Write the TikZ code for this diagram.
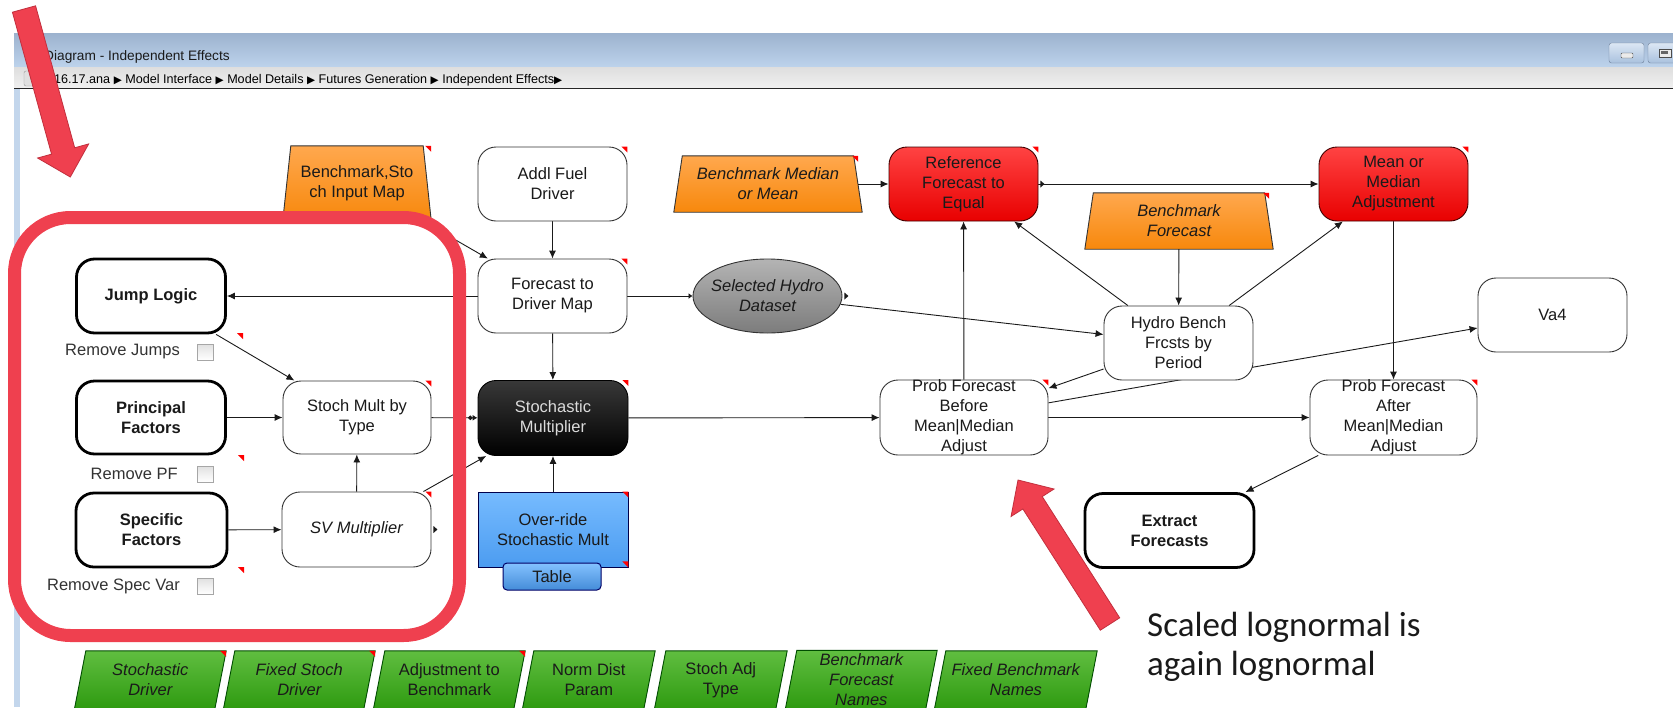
\documentclass[tikz,border=0pt]{standalone}
\usepackage{fontspec}
\setmainfont{Liberation Sans}
\newfontfamily\notefont{Carlito}
\newfontfamily\glyphfont{DejaVu Sans}
\usetikzlibrary{arrows.meta,calc,shapes.geometric}

\definecolor{titletop}{HTML}{9CB2CE}
\definecolor{titlebot}{HTML}{BDD3EC}
\definecolor{crumbtop}{HTML}{DEDEDE}
\definecolor{crumbbot}{HTML}{F0F0F0}
\definecolor{framestrip}{HTML}{C3D6EC}
\definecolor{wirecol}{HTML}{1A1A1A}
\definecolor{edgegray}{HTML}{333333}
\definecolor{inktext}{HTML}{1A1A1A}
\definecolor{markred}{HTML}{FF0000}
\definecolor{orangetop}{HTML}{FFA84E}
\definecolor{orangebot}{HTML}{F7880C}
\definecolor{redtop}{HTML}{FF4343}
\definecolor{redbot}{HTML}{E80000}
\definecolor{greentop}{HTML}{60BE40}
\definecolor{greenbot}{HTML}{2E9A10}
\definecolor{bluetop}{HTML}{76BBFF}
\definecolor{bluebot}{HTML}{4C9CF0}
\definecolor{greytop}{HTML}{B4B4B4}
\definecolor{greybot}{HTML}{7C7C7C}
\definecolor{callout}{HTML}{EF404F}
\definecolor{calloutedge}{HTML}{C22F3D}
\definecolor{btntop}{HTML}{DCE7F4}
\definecolor{btnbot}{HTML}{A9C1DE}
\definecolor{btnedge}{HTML}{6F819B}

\pgfdeclarelayer{back}
\pgfdeclarelayer{wires}
\pgfsetlayers{back,wires,main}

\newcommand\diagfont{\fontsize{16.5}{20}\selectfont}
\newcommand\crumbsep{{\glyphfont\fontsize{10.5}{12}\selectfont ▶}}
% small red flag in the corner of a node
\newcommand\cornermark[1]{\fill[markred] (#1) -- ++(-6,0) -- ++(6,6) -- cycle;}
% tiny output triangle on the right side of a node
\newcommand\outmark[1]{\fill[wirecol] (#1) ++(2,-3.5) -- ++(4,3.5) -- ++(-4,3.5) -- cycle;}
% orange trapezoid behind a text node
\newcommand\trapshape[2]{\path[trapfill] ([xshift=#2]#1.north west) -- ([xshift=-#2]#1.north east) -- (#1.south east) -- (#1.south west) -- cycle;}
% green slanted box behind a text node
\newcommand\slantshape[1]{\path[slantfill] ([xshift=5.7pt]#1.north west) -- ([xshift=5.7pt]#1.north east) -- ([xshift=-5.7pt]#1.south east) -- ([xshift=-5.7pt]#1.south west) -- cycle;}

\begin{document}
\begin{tikzpicture}[x=1pt,y=-1pt,
  every node/.style={inner sep=0pt, text=inktext},
  plain/.style={rectangle, rounded corners=18pt, draw=edgegray, line width=0.9pt, fill=white,
    minimum width=149pt, minimum height=74pt, align=center, font=\diagfont},
  heavy/.style={plain, draw=black, line width=2.8pt, font=\diagfont\bfseries},
  hot/.style={plain, top color=redtop, bottom color=redbot, draw=black!75!red},
  wire/.style={draw=wirecol, line width=0.9pt, -{Latex[length=8pt,width=7pt]}},
  trapbox/.style={rectangle, align=center, font=\diagfont},
  trapfill/.style={top color=orangetop, bottom color=orangebot, draw=edgegray, line width=0.9pt},
  slantbox/.style={rectangle, minimum height=58pt, align=center, font=\diagfont},
  slantfill/.style={top color=greentop, bottom color=greenbot, draw=black!70!green, line width=0.9pt},
  boxlabel/.style={anchor=east, font=\diagfont, text=black!80},
  checkbox/.style={rectangle, minimum width=16pt, minimum height=16pt, draw=black!35, line width=0.9pt,
    top color=black!12, bottom color=white},
  arrowshape/.style={fill=callout, draw=calloutedge, line width=0.8pt},
]
\useasboundingbox (0,0) rectangle (1673,707);

% ---- window frame ----
\begin{pgfonlayer}{back}
  \fill[white] (0,0) rectangle (1673,707);
  \shade[top color=titletop, bottom color=titlebot] (14,33) rectangle (1673,67);
  \shade[top color=crumbtop, bottom color=crumbbot] (14,67) rectangle (1673,88);
  \draw[line width=1.6pt, black!85] (14,88.6) -- (1673,88.6);
  \fill[framestrip] (14,89.4) rectangle (20,707);
  \draw[rounded corners=2pt, fill=black!12, draw=black!40] (24,71) rectangle (42,86);
  \shadedraw[rounded corners=2.5pt, top color=btntop, bottom color=btnbot, draw=btnedge] (1609,43) rectangle (1644,63);
  \draw[rounded corners=1pt, fill=black!8, draw=black!70] (1621,53) rectangle (1633,58);
  \shadedraw[rounded corners=2.5pt, top color=btntop, bottom color=btnbot, draw=btnedge] (1648,43) rectangle (1692,63);
  \draw[fill=black!8, draw=black!70] (1659,49) rectangle (1671,57);
  \fill[black!60] (1661,51) rectangle (1668,53.5);
\end{pgfonlayer}
\node[anchor=base west, font=\fontsize{13.7}{16}\selectfont] (wintitle) at (44,60) {Diagram - Independent Effects};
\node[anchor=base west, font=\fontsize{12.6}{14}\selectfont, text=black] (crumbs) at (54,83)
  {16.17.ana \crumbsep{} Model Interface \crumbsep{} Model Details \crumbsep{} Futures Generation \crumbsep{} Independent Effects\crumbsep};

% ---- left group ----
\node[heavy] (jl) at (151,296) {Jump Logic};
\node[heavy, minimum height=73pt] (pf) at (151,417.5) {Principal\\Factors};
\node[heavy, minimum width=151pt] (sf) at (151.5,530) {Specific\\Factors};
\node[boxlabel] (lj) at (180,352) {Remove Jumps};
\node[checkbox] (cbj) at (205,352) {};
\node[boxlabel] (lp) at (178,474) {Remove PF};
\node[checkbox] (cbp) at (205,474) {};
\node[boxlabel] (ls) at (180,586) {Remove Spec Var};
\node[checkbox] (cbs) at (205,586) {};

\node[plain, minimum width=148pt, minimum height=73pt] (smt) at (357,417.5) {Stoch Mult by\\Type};
\node[plain, font=\diagfont\itshape, minimum height=75pt] (svm) at (356.5,529.5) {SV Multiplier};

% ---- middle column ----
\node[trapbox, minimum width=148pt, minimum height=74pt] (bsim) at (357,183) {Benchmark,Sto\\ch Input Map};
\node[plain] (afd) at (552.5,184) {Addl Fuel\\Driver};
\node[plain] (ftdm) at (552.5,296) {Forecast to\\Driver Map};
\node[plain, minimum width=150pt, minimum height=75pt, top color=black!78, bottom color=black, draw=black,
  text=white!86!black] (stm) at (553,418) {Stochastic\\Multiplier};
\node[plain, sharp corners, minimum width=150pt, minimum height=75pt, top color=bluetop, bottom color=bluebot,
  draw=black!70!blue] (ovr) at (553,529.5) {Over-ride\\Stochastic Mult};
\node[rectangle, rounded corners=4pt, minimum width=98pt, minimum height=27pt, top color=bluetop!90!white,
  bottom color=bluebot!90!black, draw=black!60!blue, line width=1pt, font=\diagfont] (tbl) at (552,576.5) {Table};

\node[trapbox, minimum width=188pt, minimum height=56pt, font=\diagfont\itshape] (bmm) at (768,184) {Benchmark Median\\or Mean};
\node[ellipse, minimum width=149pt, minimum height=74pt, top color=greytop, bottom color=greybot, draw=edgegray,
  line width=0.9pt, label={[font=\diagfont\itshape, align=center]center:{Selected Hydro\\Dataset}}] (shd) at (767.5,296) {};

% ---- right part ----
\node[hot] (rfe) at (963.5,184) {Reference\\Forecast to\\Equal};
\node[hot] (mma) at (1393.5,184) {Mean or\\Median\\Adjustment};
\node[trapbox, minimum width=188pt, minimum height=56pt, font=\diagfont\itshape] (bf) at (1179,221) {Benchmark\\Forecast};
\node[plain] (hb) at (1178.5,343) {Hydro Bench\\Frcsts by\\Period};
\node[plain] (va4) at (1552.5,315) {Va4};
\node[plain, minimum width=168pt, minimum height=75pt,
  label={[font=\diagfont, align=center]center:{Prob Forecast\\Before\\Mean|Median\\Adjust}}] (pfb) at (964,417.5) {};
\node[plain, minimum width=167pt, minimum height=75pt,
  label={[font=\diagfont, align=center]center:{Prob Forecast\\After\\Mean|Median\\Adjust}}] (pfa) at (1393.5,417.5) {};
\node[heavy, minimum width=169pt] (ef) at (1169.5,530.5) {Extract\\Forecasts};

% ---- bottom row ----
\node[slantbox, minimum width=140pt, font=\diagfont\itshape] (g1) at (150.3,680) {Stochastic\\Driver};
\node[slantbox, minimum width=140pt, font=\diagfont\itshape] (g2) at (299.3,680) {Fixed Stoch\\Driver};
\node[slantbox, minimum width=140pt] (g3) at (449.3,680) {Adjustment to\\Benchmark};
\node[slantbox, minimum width=121pt] (g4) at (588.8,680) {Norm Dist\\Param};
\node[slantbox, minimum width=121pt] (g5) at (720.8,680) {Stoch Adj\\Type};
\node[slantbox, minimum width=140pt, font=\diagfont\itshape] (g6) at (861.3,679.5) {Benchmark\\Forecast\\Names};
\node[slantbox, minimum width=151pt, font=\diagfont\itshape] (g7) at (1015.8,680) {Fixed Benchmark\\Names};

% ---- shapes behind the text nodes ----
\begin{pgfonlayer}{back}
  \trapshape{bsim}{8pt}
  \trapshape{bmm}{8.5pt}
  \trapshape{bf}{8.5pt}
  \slantshape{g1}\slantshape{g2}\slantshape{g3}\slantshape{g4}
  \slantshape{g5}\slantshape{g6}\slantshape{g7}
\end{pgfonlayer}

% ---- connectors ----
\begin{pgfonlayer}{wires}
  \draw[wire] (bsim) -- (ftdm);
  \draw[wire] (afd) -- (ftdm);
  \draw[wire] (ftdm) -- (stm);
  \draw[wire] (ftdm) -- (jl);
  \draw[wire, -{Latex[length=4pt,width=6pt]}] (ftdm) -- (shd);
  \draw[wire] (shd) -- (hb);
  \draw[wire] (jl) -- (smt);
  \draw[wire] (pf) -- (smt);
  \draw[wire] (sf) -- (svm);
  \draw[wire] (svm) -- (smt);
  \draw[wire] (svm) -- (stm);
  \draw[wire, -{Circle[length=4.5pt] Latex[length=5pt,width=6pt]}] (smt) -- (stm);
  \draw[wire] (ovr) -- (stm);
  \draw[wire] (stm) -- (pfb);
  \draw[wire] ([xshift=-4pt]bmm.east) -- (rfe);
  \draw[wire] (rfe) -- (mma);
  \draw[wire] (pfb) -- (rfe);
  \draw[wire] (hb) -- (rfe);
  \draw[wire] (hb) -- (mma);
  \draw[wire] (bf) -- (hb);
  \draw[wire] (hb) -- (pfb);
  \draw[wire] (pfb) -- (va4);
  \draw[wire] (pfb) -- (pfa);
  \draw[wire] (mma) -- (pfa);
  \draw[wire] (pfa) -- (ef);
\end{pgfonlayer}

\outmark{shd.east}
\outmark{rfe.east}
\outmark{svm.east}

% ---- corner flags ----
\cornermark{bsim.north east}
\cornermark{afd.north east}
\cornermark{ftdm.north east}
\cornermark{smt.north east}
\cornermark{stm.north east}
\cornermark{svm.north east}
\cornermark{ovr.north east}
\cornermark{$(ovr.south east)+(0,-6)$}
\cornermark{[xshift=-4pt]bmm.north east}
\cornermark{rfe.north east}
\cornermark{mma.north east}
\cornermark{[xshift=-4pt]bf.north east}
\cornermark{pfb.north east}
\cornermark{pfa.north east}
\cornermark{$(cbj.center)+(38,-19)$}
\cornermark{$(cbp.center)+(39,-19)$}
\cornermark{$(cbs.center)+(39,-19)$}
\cornermark{[xshift=5.7pt]g1.north east}
\cornermark{[xshift=5.7pt]g2.north east}
\cornermark{[xshift=5.7pt]g3.north east}

% ---- highlight frame and pointers ----
\draw[callout, line width=13pt, rounded corners=56pt] (14.5,217.5) rectangle (459.5,635.5);

\coordinate (tlTip) at (70.3,177);
\coordinate (tlTail) at (24,9);
\coordinate (tlBase) at ($(tlTip)!27pt!(tlTail)$);
\filldraw[arrowshape]
  ($(tlTail)!12pt!90:(tlTip)$) -- ($(tlBase)!12pt!90:(tlTip)$) -- ($(tlBase)!26.5pt!90:(tlTip)$) --
  (tlTip) --
  ($(tlBase)!26.5pt!-90:(tlTip)$) -- ($(tlBase)!12pt!-90:(tlTip)$) -- ($(tlTail)!12pt!-90:(tlTip)$) -- cycle;

\coordinate (brTip) at (1018,480);
\coordinate (brTail) at (1110,624);
\coordinate (brBase) at ($(brTip)!27pt!(brTail)$);
\filldraw[arrowshape]
  ($(brTail)!11.5pt!90:(brTip)$) -- ($(brBase)!11.5pt!90:(brTip)$) -- ($(brBase)!25.5pt!90:(brTip)$) --
  (brTip) --
  ($(brBase)!25.5pt!-90:(brTip)$) -- ($(brBase)!11.5pt!-90:(brTip)$) -- ($(brTail)!11.5pt!-90:(brTip)$) -- cycle;

\node[anchor=base west, font=\notefont\fontsize{35}{39}\selectfont] (note1) at (1147,636.5) {Scaled lognormal is};
\node[anchor=base west, font=\notefont\fontsize{35}{39}\selectfont] (note2) at (1147,675) {again lognormal};

\end{tikzpicture}
\end{document}
